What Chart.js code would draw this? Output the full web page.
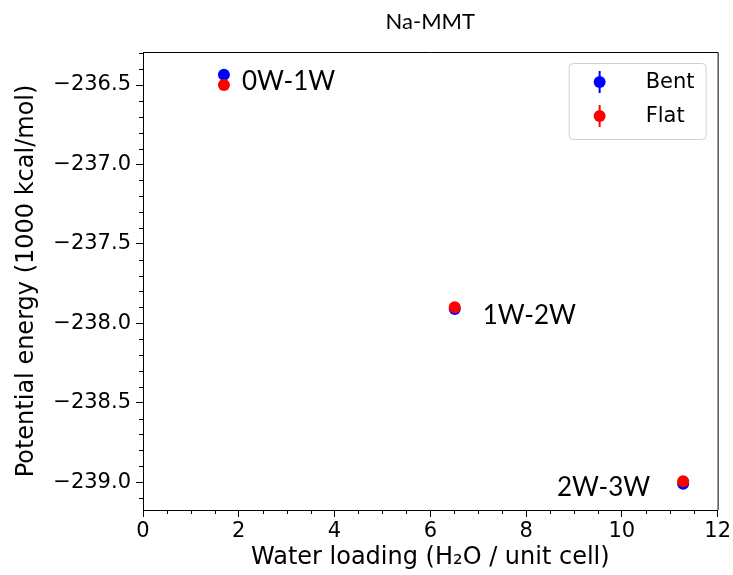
<!DOCTYPE html>
<html><head><meta charset="utf-8">
<script src="https://cdn.jsdelivr.net/npm/chart.js@4.4.1/dist/chart.umd.min.js"></script>
<style>html,body{margin:0;padding:0;background:#fff}</style>
</head><body>
<canvas id="c" width="733" height="575"></canvas>
<script>
// ---- data ----
const waterLoading = [1.69, 6.51, 11.28];
const bentEnergy = [-236.435, -237.91, -239.01];
const flatEnergy = [-236.50, -237.90, -238.995];
const transitionLabels = ['0W-1W', '1W-2W', '2W-3W'];
const seriesNames = ['Bent', 'Flat'];
const seriesColors = ['#0000ff', '#ff0000'];
const xTicks = [0, 2, 4, 6, 8, 10, 12];
const yTicks = [-239.0, -238.5, -238.0, -237.5, -237.0, -236.5];
const chartTitle = 'Na-MMT';
const xTitle = 'Water loading (H\u2082O / unit cell)';
const yTitle = 'Potential energy (1000 kcal/mol)';

// ---- styling (pixel offsets for labels relative to point pairs) ----
const labelOffsets = [{dx: 18, dy: 10, align: 'left'}, {dx: 28, dy: 15.5, align: 'left'}, {dx: -33, dy: 14, align: 'right'}];
const tickFont = {family: 'DejaVu Sans', size: 21};
const titleFont = {family: 'DejaVu Sans', size: 24};
const fmt = v => v.toFixed(v % 1 === 0 && Math.abs(v) < 100 ? 0 : 1).replace('-', '\u2212');

const extras = {
  id: 'extras',
  afterDraw(chart) {
    const ctx = chart.ctx, a = chart.chartArea;
    const xs = chart.scales.x, ys = chart.scales.y;
    ctx.save();
    // top & right spines
    ctx.strokeStyle = '#000'; ctx.lineWidth = 1;
    ctx.beginPath();
    ctx.moveTo(a.left, a.top + 0.5); ctx.lineTo(a.right + 0.5, a.top + 0.5);
    ctx.lineTo(a.right + 0.5, a.bottom);
    ctx.stroke();
    // minor ticks
    ctx.beginPath();
    for (let v = 0.5; v < 12; v += 0.5) {
      if (Math.abs(v % 2) < 1e-6) continue;
      const px = Math.round(xs.getPixelForValue(v)) + 0.5;
      ctx.moveTo(px, a.bottom); ctx.lineTo(px, a.bottom + 4);
    }
    for (let k = -2392; k <= -2363; k++) {
      const v = k / 10;
      if (k % 5 === 0) continue;
      if (v < ys.min || v > ys.max) continue;
      const py = Math.round(ys.getPixelForValue(v)) + 0.5;
      ctx.moveTo(a.left, py); ctx.lineTo(a.left - 4, py);
    }
    ctx.stroke();
    // title
    ctx.fillStyle = '#000';
    ctx.font = '22px Lato';
    ctx.textAlign = 'center'; ctx.textBaseline = 'alphabetic';
    ctx.fillText(chartTitle, (a.left + a.right) / 2, 29);
    // transition labels
    ctx.font = '26px Lato';
    transitionLabels.forEach((t, i) => {
      const px = xs.getPixelForValue(waterLoading[i]);
      const py = (ys.getPixelForValue(bentEnergy[i]) + ys.getPixelForValue(flatEnergy[i])) / 2;
      const o = labelOffsets[i];
      ctx.textAlign = o.align;
      ctx.fillText(t, px + o.dx, py + o.dy);
    });
    // legend
    const bx = a.right - 149, by = a.top + 11, bw = 137, bh = 76;
    ctx.fillStyle = 'rgba(255,255,255,0.8)';
    ctx.strokeStyle = '#d0d0d0'; ctx.lineWidth = 1;
    ctx.beginPath();
    if (ctx.roundRect) ctx.roundRect(bx + 0.5, by + 0.5, bw, bh, 4); else ctx.rect(bx + 0.5, by + 0.5, bw, bh);
    ctx.fill(); ctx.stroke();
    ctx.font = '21px "DejaVu Sans"';
    ctx.textAlign = 'left'; ctx.textBaseline = 'middle';
    seriesNames.forEach((n, i) => {
      const cy = by + 19 + i * 34, cx = bx + 31;
      ctx.strokeStyle = seriesColors[i]; ctx.lineWidth = 2;
      ctx.beginPath(); ctx.moveTo(cx, cy - 11); ctx.lineTo(cx, cy + 11); ctx.stroke();
      ctx.fillStyle = seriesColors[i];
      ctx.beginPath(); ctx.arc(cx, cy, 6, 0, Math.PI * 2); ctx.fill();
      ctx.fillStyle = '#000';
      ctx.fillText(n, bx + 77, cy + 1);
    });
    ctx.restore();
  }
};

new Chart(document.getElementById('c'), {
  type: 'scatter',
  data: {
    datasets: [
      {label: seriesNames[0], data: waterLoading.map((x, i) => ({x, y: bentEnergy[i]})), backgroundColor: seriesColors[0], borderColor: seriesColors[0], borderWidth: 0, pointRadius: 6, pointHoverRadius: 6, order: 1},
      {label: seriesNames[1], data: waterLoading.map((x, i) => ({x, y: flatEnergy[i]})), backgroundColor: seriesColors[1], borderColor: seriesColors[1], borderWidth: 0, pointRadius: 6, pointHoverRadius: 6, order: 0}
    ]
  },
  options: {
    responsive: false, animation: false, devicePixelRatio: 1,
    layout: {padding: {left: 0, top: 52, right: 15, bottom: 0}},
    plugins: {legend: {display: false}, tooltip: {enabled: false}, title: {display: false}},
    events: [],
    scales: {
      x: {
        type: 'linear', min: 0, max: 12,
        afterBuildTicks: s => { s.ticks = xTicks.map(v => ({value: v})); },
        afterFit: s => { s.height = 65; },
        ticks: {font: tickFont, color: '#000', padding: 2, maxRotation: 0, callback: v => fmt(v)},
        grid: {display: true, drawOnChartArea: false, drawTicks: true, tickLength: 7, tickColor: '#000', tickWidth: 1},
        border: {display: true, color: '#000', width: 1},
        title: {display: true, text: xTitle, font: titleFont, color: '#000', padding: {top: 0, bottom: 3}}
      },
      y: {
        type: 'linear', min: -239.176, max: -236.292,
        afterBuildTicks: s => { s.ticks = yTicks.map(v => ({value: v})); },
        afterFit: s => { s.width = 143; },
        ticks: {font: tickFont, color: '#000', padding: 5, callback: v => v.toFixed(1).replace('-', '\u2212')},
        grid: {display: true, drawOnChartArea: false, drawTicks: true, tickLength: 7, tickColor: '#000', tickWidth: 1},
        border: {display: true, color: '#000', width: 1},
        title: {display: true, text: yTitle, font: titleFont, color: '#000', padding: {top: 12, bottom: 0}}
      }
    }
  },
  plugins: [extras]
});
</script>
</body></html>
